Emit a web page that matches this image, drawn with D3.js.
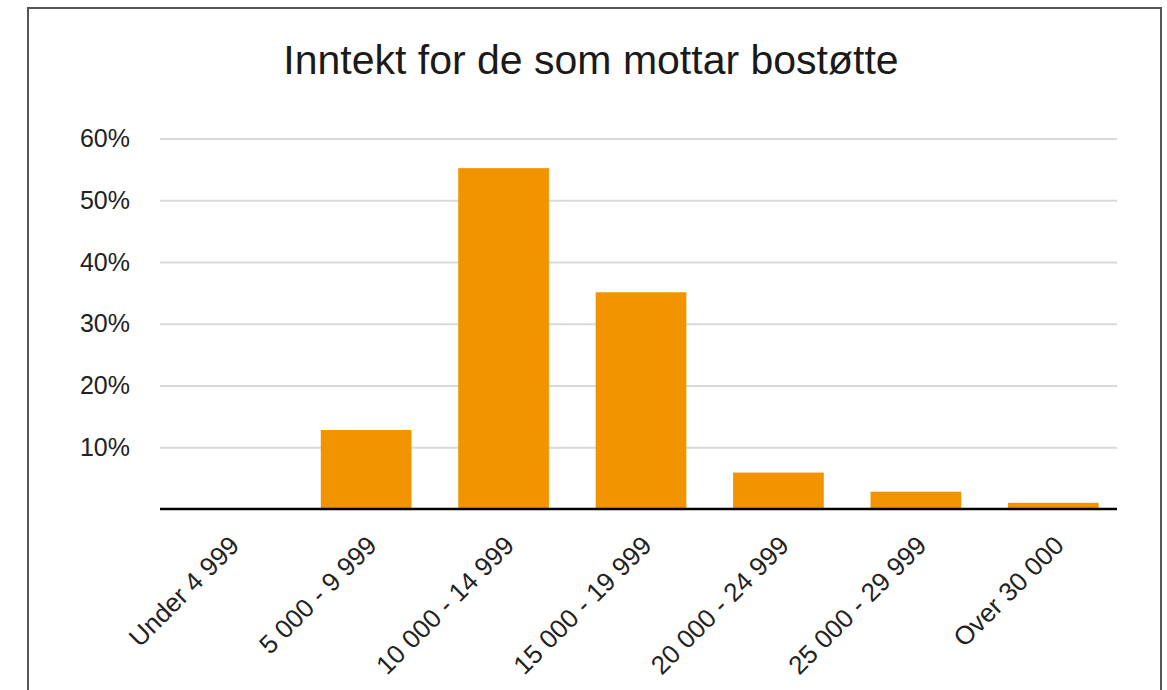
<!DOCTYPE html>
<html>
<head>
<meta charset="utf-8">
<script src="https://cdn.jsdelivr.net/npm/d3@7"></script>
<style>
  body { margin: 0; background: #fff; }
  svg { display: block; }
  .grid line { stroke: #d9d9d9; stroke-width: 2; }
  .grid .domain { display: none; }
  .y.axis text, .x.axis text { font-family: "Liberation Sans", Arial, sans-serif; fill: #222; }
  .y.axis .domain, .y.axis line { display: none; }
  .x.axis line { display: none; }
  .x.axis .domain { stroke: #000; stroke-width: 2.5; }
</style>
</head>
<body>
<div id="chart"></div>
<script>
var categories = ["Under 4 999", "5 000 - 9 999", "10 000 - 14 999", "15 000 - 19 999",
  "20 000 - 24 999", "25 000 - 29 999", "Over 30 000"];
var shares = [0, 12.8, 55.2, 35.1, 5.9, 2.8, 1.0];
var yTicks = [10, 20, 30, 40, 50, 60];

var W = 1167, H = 690;

var svg = d3.select("#chart").append("svg")
  .attr("width", W)
  .attr("height", H);

// frame
svg.append("rect")
  .attr("x", 28)
  .attr("y", 8)
  .attr("width", 1133)
  .attr("height", 700)
  .attr("fill", "#fff")
  .attr("stroke", "#555")
  .attr("stroke-width", 2);

svg.append("text")
  .attr("x", 591)
  .attr("y", 74)
  .attr("text-anchor", "middle")
  .style("font-family", "'Liberation Sans', Arial, sans-serif")
  .style("font-size", "41px")
  .style("fill", "#1a1a1a")
  .text("Inntekt for de som mottar bostøtte");

var x = d3.scaleBand()
  .domain(categories)
  .range([160, 1122])
  .paddingInner(0.34)
  .paddingOuter(0.17);

var y = d3.scaleLinear()
  .domain([0, 60])
  .range([509, 138.5]);

// gridlines
svg.append("g")
  .attr("class", "grid")
  .attr("transform", "translate(160,0)")
  .call(d3.axisLeft(y).tickValues(yTicks).tickSize(-957).tickFormat(""));

svg.append("g")
  .attr("class", "y axis")
  .attr("transform", "translate(160,0)")
  .call(d3.axisLeft(y).tickValues(yTicks).tickSize(0).tickPadding(30)
    .tickFormat(function(d) { return d + "%"; }))
  .selectAll("text")
  .style("font-size", "25px");

svg.selectAll(".bar")
  .data(shares)
  .enter().append("rect")
  .attr("class", "bar")
  .attr("x", function(d, i) { return x(categories[i]); })
  .attr("width", x.bandwidth())
  .attr("y", function(d) { return y(d); })
  .attr("height", function(d) { return y(0) - y(d); })
  .attr("fill", "#f29400");

var xAxis = svg.append("g")
  .attr("class", "x axis")
  .attr("transform", "translate(0,509)")
  .call(d3.axisBottom(x).tickSize(0).tickSizeOuter(0));

xAxis.select(".domain").attr("d", "M160,0H1117");

xAxis.selectAll("text")
  .style("font-size", "26px")
  .style("text-anchor", "end")
  .attr("dy", 0)
  .attr("transform", "translate(10,36) rotate(-45)");
</script>
</body>
</html>
